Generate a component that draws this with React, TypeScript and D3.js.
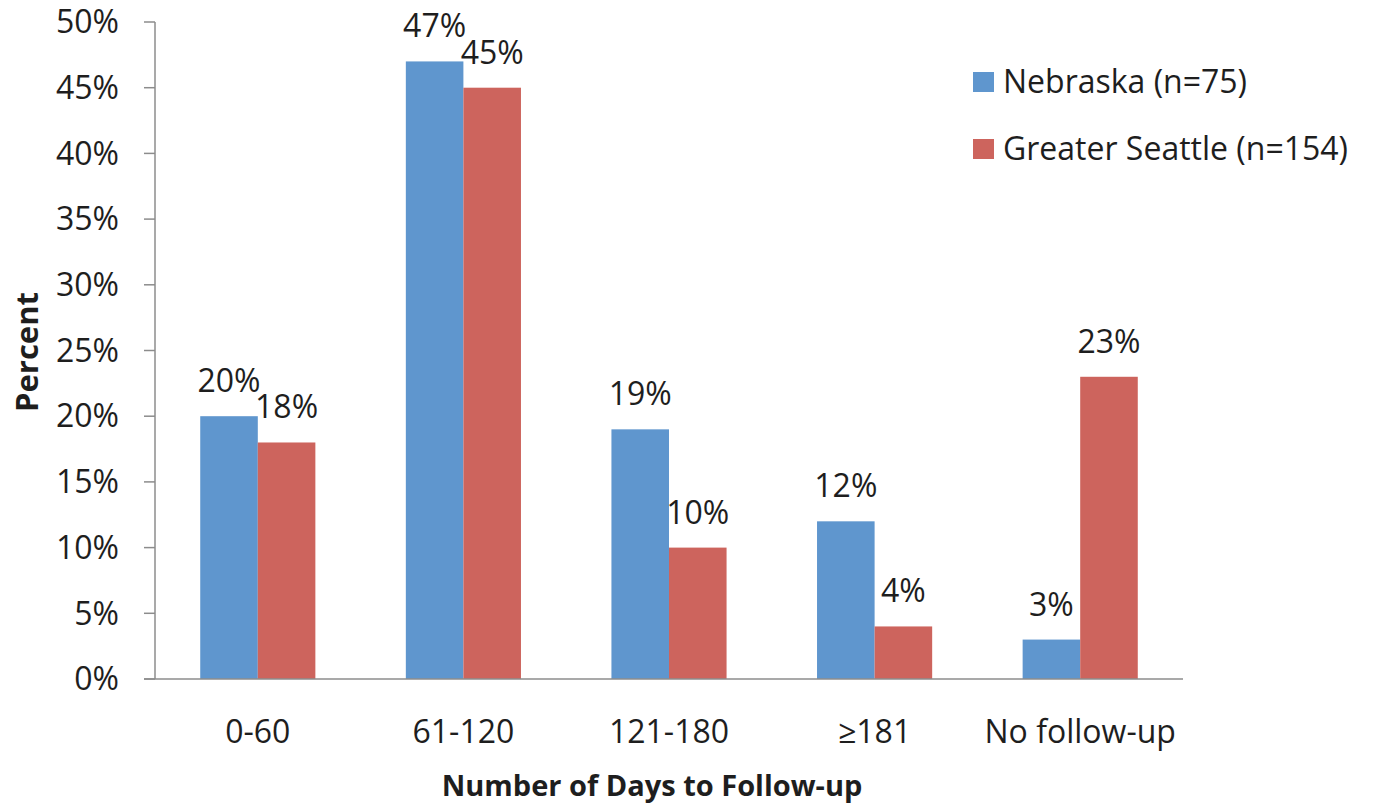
import React from "react";
import * as d3 from "d3";

const categories = ["0-60", "61-120", "121-180", "≥181", "No follow-up"];
const seriesNames = ["Nebraska (n=75)", "Greater Seattle (n=154)"];
const nebraska = [20, 47, 19, 12, 3];
const seattle = [18, 45, 10, 4, 23];
const yTicks = [0, 5, 10, 15, 20, 25, 30, 35, 40, 45, 50];
const colors = ["#5F96CE", "#CD645D"];

const W = 1373;
const H = 808;
const left = 155;
const right = 1183;
const top = 22;
const bottom = 679;
const FONT = "'Open Sans', Lato, sans-serif";
const TEXT = "#1e1e1e";
const FS = 32;
const FS_BOLD = 29;

export default function App() {
  const x = d3
    .scaleBand<string>()
    .domain(categories)
    .range([left, right])
    .paddingInner(0.44)
    .paddingOuter(0.22);
  const sub = d3
    .scaleBand<string>()
    .domain(seriesNames)
    .range([0, x.bandwidth()]);
  const y = d3.scaleLinear().domain([0, 50]).range([bottom, top]);
  const series = [nebraska, seattle];

  return (
    <svg
      width={W}
      height={H}
      style={{ position: "absolute", left: 0, top: 0, background: "#fff" }}
      fontFamily={FONT}
    >
      {/* y axis */}
      <line x1={left} x2={left} y1={top} y2={bottom} stroke="#8c8c8c" strokeWidth={1.5} />
      {yTicks.map((t) => (
        <g key={t}>
          <line x1={left - 11} x2={left} y1={y(t)} y2={y(t)} stroke="#8c8c8c" strokeWidth={1.5} />
          <text
            x={left - 36}
            y={y(t)}
            dy="0.35em"
            textAnchor="end"
            fontSize={FS}
            fill={TEXT}
          >
            {t}%
          </text>
        </g>
      ))}

      {/* bars */}
      {series.map((vals, si) =>
        vals.map((v, ci) => {
          const bx = (x(categories[ci]) as number) + (sub(seriesNames[si]) as number);
          const bw = sub.bandwidth();
          return (
            <g key={`${si}-${ci}`}>
              <rect x={bx} y={y(v)} width={bw} height={bottom - y(v)} fill={colors[si]} />
              <text
                x={bx + bw / 2}
                y={y(v) - 24}
                textAnchor="middle"
                fontSize={FS}
                fill={TEXT}
              >
                {v}%
              </text>
            </g>
          );
        })
      )}

      {/* x axis */}
      <line x1={left - 11} x2={right} y1={bottom} y2={bottom} stroke="#8c8c8c" strokeWidth={1.5} />
      {categories.map((c) => (
        <text
          key={c}
          x={(x(c) as number) + x.bandwidth() / 2}
          y={743}
          textAnchor="middle"
          fontSize={FS}
          fill={TEXT}
        >
          {c}
        </text>
      ))}

      {/* axis titles */}
      <text
        x={652}
        y={796}
        textAnchor="middle"
        fontSize={FS_BOLD}
        fontWeight="bold"
        fill={TEXT}
      >
        Number of Days to Follow-up
      </text>
      <text
        transform={`translate(38, 352) rotate(-90)`}
        textAnchor="middle"
        fontSize={FS_BOLD + 2}
        fontWeight="bold"
        fill={TEXT}
      >
        Percent
      </text>

      {/* legend */}
      {seriesNames.map((name, i) => (
        <g key={name} transform={`translate(973, ${72 + i * 67})`}>
          <rect x={0} y={0} width={21} height={20} fill={colors[i]} />
          <text x={30} y={10} dy="0.35em" fontSize={FS} fill={TEXT}>
            {name}
          </text>
        </g>
      ))}
    </svg>
  );
}
